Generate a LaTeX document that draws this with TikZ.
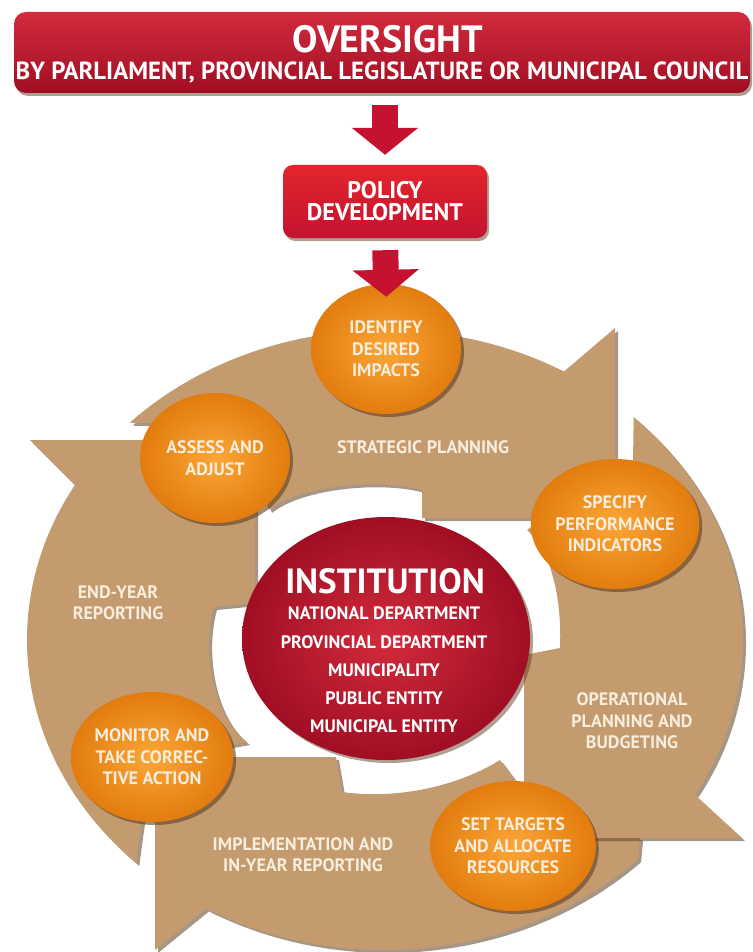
\documentclass[tikz,border=0pt]{standalone}
\usepackage{fontspec}
\setmainfont{PT Sans}
\usetikzlibrary{calc,arrows.meta,shapes.geometric,shadows,positioning}
\definecolor{pc-red}{HTML}{C41230}
\definecolor{pc-reddark}{HTML}{A00E24}
\definecolor{pc-redlight}{HTML}{E2262C}
\definecolor{pc-hublight}{HTML}{D22B3C}
\definecolor{pc-tan}{HTML}{C49B6E}
\definecolor{pc-shade}{HTML}{5E4024}
\definecolor{pc-orangelight}{HTML}{FBA637}
\definecolor{pc-orangedark}{HTML}{E27C0E}
\definecolor{pc-cream}{HTML}{F7EDDD}

\begin{document}
\begin{tikzpicture}[
    x=1pt, y=-1pt,
    font=\bfseries,
    >=latex
  ]
  \tikzset{
    ringpiece/.style={fill=pc-tan, drop shadow={shadow xshift=3pt, shadow yshift=-3pt, fill=pc-shade, opacity=0.55}},
    ringlabel/.style={text=pc-cream, align=center, inner sep=0pt, font=\bfseries\fontsize{18}{21.5}\selectfont},
    dotnode/.style={ellipse, minimum width=150pt, minimum height=130pt, inner sep=0pt, inner color=pc-orangelight, outer color=pc-orangedark, text=pc-cream, align=center, font=\bfseries\fontsize{18}{21.5}\selectfont, drop shadow={shadow xshift=3pt, shadow yshift=-3pt, fill=pc-shade, opacity=0.6}},
    hubnode/.style={ellipse, minimum width=288pt, minimum height=243pt, inner sep=0pt, inner color=pc-hublight, outer color=pc-reddark, drop shadow={shadow xshift=3pt, shadow yshift=-3pt, fill=pc-shade, opacity=0.5}},
    bannerbox/.style={rectangle, rounded corners=12pt, minimum width=736pt, minimum height=81pt, top color=pc-hublight, bottom color=pc-reddark, drop shadow={shadow xshift=2pt, shadow yshift=-3pt, fill=pc-shade, opacity=0.5}},
    policybox/.style={rectangle, rounded corners=10pt, minimum width=204pt, minimum height=73pt, inner sep=0pt, top color=pc-redlight, bottom color=pc-red, text=white, align=center, font=\bfseries\fontsize{24}{22}\selectfont, drop shadow={shadow xshift=2pt, shadow yshift=-3pt, fill=pc-shade, opacity=0.5}},
    flow/.style={pc-red, line width=26pt, -{Triangle[width=65pt, length=27pt]}}
  }

  \useasboundingbox (0,0) rectangle (752,952);
  \fill[white] (0,0) rectangle (752,952);

  % the four pieces of the ring
  \fill[ringpiece] (638.1,859.2) arc[start angle=45, end angle=120, x radius=358, y radius=310]
    -- (155,950) -- (155,757) -- (336,757) -- (342,792)
    .. controls (400,800) and (460,785) .. (500,760) -- (530,800) -- (640,838) -- cycle;
  \fill[ringpiece] (633.7,417) arc[start angle=-46, end angle=30, x radius=358, y radius=310]
    -- (742,838) -- (524,838) -- (524,655) -- (560,648)
    .. controls (562,600) and (552,552) .. (527,530) -- (600,475) -- (633,462) -- cycle;
  \fill[ringpiece] (129.7,422.7) arc[start angle=-135.5, end angle=-60, x radius=358, y radius=310]
    -- (615,328) -- (615,518) -- (422,518) -- (422,490)
    .. controls (380,478) and (300,485) .. (269,510) -- (255,470) -- (240,425) -- cycle;
  \fill[ringpiece] (136.3,863) arc[start angle=134, end angle=210, x radius=358, y radius=310]
    -- (30,440) -- (255,440) -- (255,603) -- (214,607)
    .. controls (202,650) and (212,715) .. (247,742) -- (225,746) -- (145,800) -- (140,835) -- cycle;

  \node (strategic) [ringlabel] at (423,447.5) {STRATEGIC PLANNING};
  \node (operational) [ringlabel] at (632,721) {OPERATIONAL\\PLANNING AND\\BUDGETING};
  \node (implementation) [ringlabel] at (303,854.5) {IMPLEMENTATION AND\\IN-YEAR REPORTING};
  \node (endyear) [ringlabel] at (118,602.5) {END-YEAR\\REPORTING};

  \node (banner) [bannerbox] at (382,52.5) {};
  \node (oversight) [anchor=base, inner sep=0pt, text=white, font=\bfseries\fontsize{38}{38}\selectfont] at (388,53) {OVERSIGHT};
  \node (oversightby) [anchor=base, inner sep=0pt, text=white, font=\bfseries\fontsize{24.8}{24.8}\selectfont] at (382,80) {BY PARLIAMENT, PROVINCIAL LEGISLATURE OR MUNICIPAL COUNCIL};

  \node (policy) [policybox] at (385,201.5) {POLICY\\DEVELOPMENT};

  \node (hub) [hubnode] at (386,638.5) {};
  \node (hubtitle) [anchor=base, inner sep=0pt, text=white, font=\bfseries\fontsize{35}{35}\selectfont] at (385,593) {INSTITUTION};
  \node (hublist) [ringlabel, text=white, font=\bfseries\fontsize{18}{28.3}\selectfont] at (384,670)
    {NATIONAL DEPARTMENT\\PROVINCIAL DEPARTMENT\\MUNICIPALITY\\PUBLIC ENTITY\\MUNICIPAL ENTITY};

  \node (impacts) [dotnode] at (386,349) {IDENTIFY\\DESIRED\\IMPACTS};
  \node (assess) [dotnode] at (215,458) {ASSESS AND\\ADJUST};
  \node (indicators) [dotnode] at (615,524) {SPECIFY\\PERFORMANCE\\INDICATORS};
  \node (targets) [dotnode] at (513,846) {SET TARGETS\\AND ALLOCATE\\RESOURCES};
  \node (monitor) [dotnode] at (152,757) {MONITOR AND\\TAKE CORREC-\\TIVE ACTION};

  \draw[flow, shorten <=12pt, shorten >=10pt] (banner.south -| policy.north) -- (policy.north);
  \draw[flow, shorten <=12pt, shorten >=-13pt] (policy.south) -- (impacts.north);
\end{tikzpicture}
\end{document}
